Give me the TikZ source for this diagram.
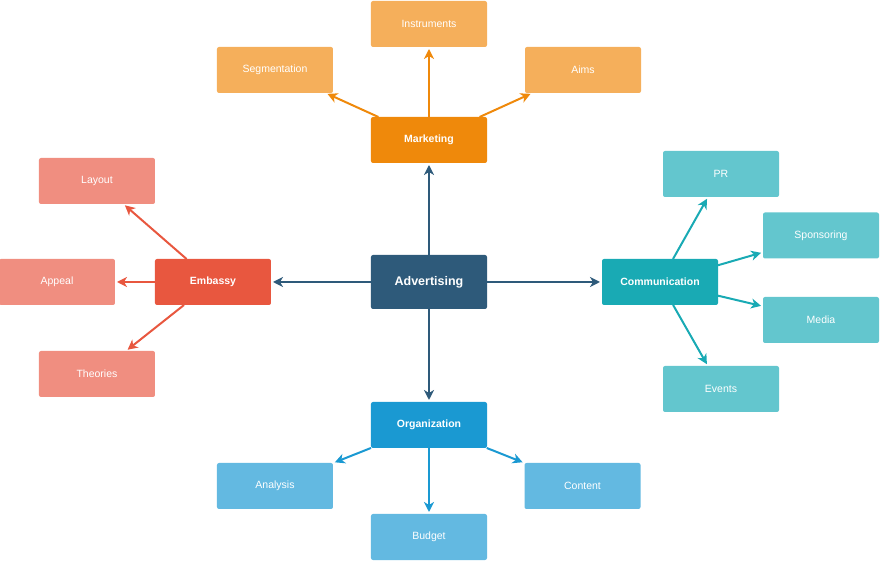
\documentclass[tikz,border=0pt]{standalone}
\usepackage{fontspec}
\setmainfont{Liberation Sans}
\usetikzlibrary{positioning,arrows.meta}

\definecolor{advblue}{HTML}{2E5A7A}
\definecolor{mktdark}{HTML}{EF890B}
\definecolor{mktlight}{HTML}{F5AF5B}
\definecolor{embdark}{HTML}{E8573F}
\definecolor{emblight}{HTML}{F08E80}
\definecolor{comdark}{HTML}{19AAB4}
\definecolor{comlight}{HTML}{63C6CE}
\definecolor{orgdark}{HTML}{1A99D2}
\definecolor{orglight}{HTML}{63B9E1}

\begin{document}
\begin{tikzpicture}[x=1pt, y=1pt, ->, >={Stealth[length=10pt,width=10pt,inset=3pt]}, shorten >=2pt, line width=2pt,
  hub node/.style={rectangle, rounded corners=2pt, outer sep=0pt, minimum width=116pt, minimum height=46pt, text=white, font=\fontsize{10.5}{12}\selectfont\bfseries},
  leaf node/.style={rectangle, rounded corners=2pt, outer sep=0pt, minimum width=116pt, minimum height=46pt, text=white, font=\fontsize{10.5}{12}\selectfont}]

  \useasboundingbox (-429,282) rectangle (451,-279);

  % Define nodes
  \node[hub node, fill=advblue, minimum height=54pt, font=\fontsize{12.5}{14}\selectfont\bfseries] (adv) at (0,0) {Advertising};
  \node[hub node, fill=mktdark] (mkt) [above=92pt of adv] {Marketing};
  \node[hub node, fill=embdark] (emb) [left=100pt of adv] {Embassy};
  \node[hub node, fill=comdark] (com) [right=115pt of adv] {Communication};
  \node[hub node, fill=orgdark] (org) [below=93pt of adv] {Organization};

  \node[leaf node, fill=mktlight] (ins) [above=70pt of mkt] {Instruments};
  \node[leaf node, fill=mktlight] (seg) [above left=24pt and 38pt of mkt] {Segmentation};
  \node[leaf node, fill=mktlight] (aim) [above right=24pt and 38pt of mkt] {Aims};

  \node[leaf node, fill=emblight] (lay) [above left=55pt and 0pt of emb] {Layout};
  \node[leaf node, fill=emblight] (app) [left=40pt of emb] {Appeal};
  \node[leaf node, fill=emblight] (the) [below left=46pt and 0pt of emb] {Theories};

  \node[leaf node, fill=comlight] (pr)  at (292,108) {PR};
  \node[leaf node, fill=comlight] (spo) at (392,46.5) {Sponsoring};
  \node[leaf node, fill=comlight] (med) at (392,-38) {Media};
  \node[leaf node, fill=comlight] (eve) at (292,-107) {Events};

  \node[leaf node, fill=orglight] (ana) at (-154,-204) {Analysis};
  \node[leaf node, fill=orglight] (cnt) at (153.5,-204) {Content};
  \node[leaf node, fill=orglight] (bud) [below=66pt of org] {Budget};

  % Define edges
  \path[->, color=advblue]
    (adv) edge (mkt)
    (adv) edge (emb)
    (adv) edge (com)
    (adv) edge (org);
  \path[->, color=mktdark]
    (mkt) edge (ins)
    (mkt) edge (seg)
    (mkt) edge (aim);
  \path[->, color=embdark]
    (emb) edge (lay)
    (emb) edge (app)
    (emb) edge (the);
  \path[->, color=comdark]
    (com) edge (pr)
    (com) edge (spo)
    (com) edge (med)
    (com) edge (eve);
  \path[->, color=orgdark]
    (org) edge (ana)
    (org) edge (cnt)
    (org) edge (bud);
\end{tikzpicture}
\end{document}
